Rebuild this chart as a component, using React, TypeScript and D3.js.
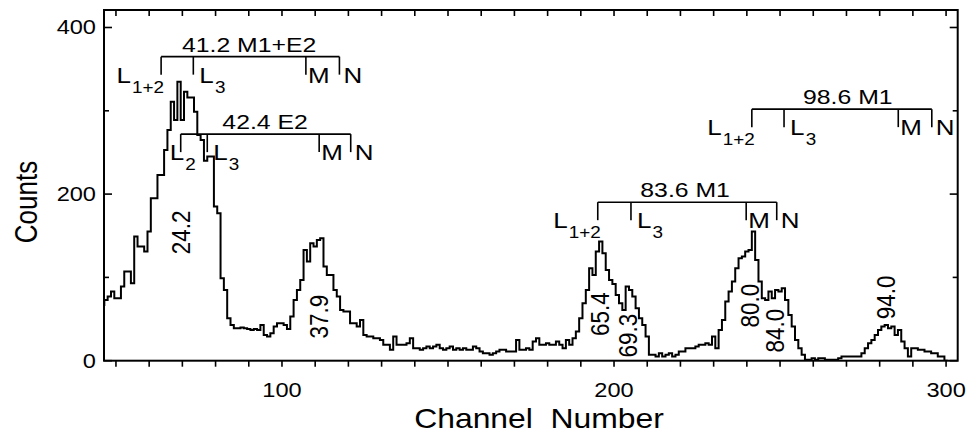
import React from 'react';
import * as d3 from 'd3';

// spectrum: counts per channel, first channel = 46
const channelStart = 46;
const counts = [
  67, 73, 77, 83, 75, 75, 89, 107, 107, 93,
  149, 137, 137, 131, 155, 195, 195, 223, 223, 253,
  277, 311, 289, 335, 289, 323, 316, 316, 299, 271,
  265, 240, 245, 245, 185, 177, 99, 85, 51, 43,
  39, 39, 40, 39, 38, 37, 38, 37, 43, 31,
  29, 33, 41, 45, 45, 43, 38, 53, 73, 85,
  97, 133, 119, 141, 137, 145, 147, 113, 103, 103,
  85, 77, 61, 59, 59, 45, 45, 41, 49, 31,
  29, 29, 27, 27, 25, 19, 19, 13, 29, 19,
  19, 19, 21, 27, 15, 15, 13, 15, 17, 15,
  17, 19, 15, 13, 15, 17, 13, 15, 13, 15,
  13, 13, 17, 15, 11, 9, 9, 7, 9, 11,
  13, 13, 11, 11, 11, 25, 13, 13, 15, 13,
  23, 27, 19, 19, 21, 19, 19, 23, 19, 15,
  25, 19, 27, 35, 51, 69, 85, 111, 103, 131,
  143, 129, 109, 97, 92, 79, 69, 61, 89, 85,
  77, 63, 51, 43, 29, 7, 7, 5, 9, 5,
  7, 9, 5, 7, 11, 11, 15, 15, 15, 17,
  19, 19, 21, 19, 29, 15, 37, 49, 71, 83,
  95, 111, 123, 125, 131, 133, 155, 121, 95, 75,
  73, 83, 75, 85, 83, 87, 73, 55, 41, 25,
  15, 7, 1, 1, 3, 1, 3, 3, 1, 1,
  1, 1, 3, 5, 5, 5, 5, 5, 5, 9,
  15, 21, 25, 31, 37, 41, 43, 39, 41, 31,
  37, 23, 15, 5, 15, 15, 13, 13, 11, 11,
  9, 9, 5, 5, 0,
];

const xMinorTicks = d3.range(50, 301, 10);
const xTickLabels = [100, 200, 300];
const yMinorTicks = [100, 300];
const yTickLabels = [0, 200, 400];

// peak energies written vertically under the peaks (channel, counts)
const peakLabels = ['24.2', '37.9', '65.4', '69.3', '80.0', '84.0', '94.0'];
const peakChannels = [69.4, 110.9, 195.5, 204.1, 240.9, 248.2, 281.8];
const peakCounts = [154, 53, 56, 30, 66, 36, 76];

// conversion-line brackets
const bracketTitles = ['41.2 M1+E2', '42.4 E2', '83.6 M1', '98.6 M1'];
const bracketLevels = [365, 272, 190.3, 302];
const bracketCenters = [90.1, 94.9, 221.4, 270.4];
const bracketEdges = [
  [63.6, 73.3, 107.2, 117.3],
  [69.5, 77.5, 111.2, 120.7],
  [195.1, 205.1, 239.8, 249.0],
  [241.5, 251.2, 285.6, 295.7],
];
const bracketShells = [
  ['L1+2', 'L3', 'M', 'N'],
  ['L2', 'L3', 'M', 'N'],
  ['L1+2', 'L3', 'M', 'N'],
  ['L1+2', 'L3', 'M', 'N'],
];

const W = 968;
const H = 438;
const left = 104;
const right = 957.7;
const top = 10;
const bottom = 360.7;
const FONT = '"Liberation Sans", Arial, Helvetica, sans-serif';
const SX = 1.18;

const x = d3.scaleLinear().domain([46.4, 303.5]).range([left, right]);
const y = d3.scaleLinear().domain([0, 421]).range([bottom, top]);

const Label = ({ px, py, size, anchor = 'start', rotate = false, children }: any) => (
  <text
    transform={`translate(${px},${py}) scale(${SX},1)${rotate ? ' rotate(-90)' : ''}`}
    textAnchor={anchor}
    fontSize={size}
    fontFamily={FONT}
    fill="#000"
    style={{ whiteSpace: 'pre' }}
  >
    {children}
  </text>
);

const Shell = ({ tick, lineY, name }: { tick: number; lineY: number; name: string }) => {
  const base = lineY + 26;
  if (name[0] !== 'L') {
    const dx = name === 'M' ? 2 : 4;
    return <Label px={tick + dx} py={base} size={22}>{name}</Label>;
  }
  const sub = name.slice(1);
  let px = tick + 6;
  let anchor = 'start';
  if (sub === '1+2') { px = tick + 3; anchor = 'end'; }
  if (sub === '2') px = tick - 11;
  return (
    <Label px={px} py={base} size={22} anchor={anchor}>
      L<tspan fontSize={16} dx={1} dy={10}>{sub}</tspan>
    </Label>
  );
};

export default function App() {
  const pts: [number, number][] = counts.map((v, i) => [channelStart + i - 0.5, v]);
  pts.push([channelStart + counts.length - 0.5, counts[counts.length - 1]]);
  const line = d3.line<[number, number]>()
    .x(d => x(d[0]))
    .y(d => y(d[1]))
    .curve(d3.curveStepAfter);

  return (
    <svg width={W} height={H} style={{ position: 'absolute', left: 0, top: 0, background: '#fff' }}>
      <defs>
        <clipPath id="plot">
          <rect x={left} y={top} width={right - left} height={bottom - top} />
        </clipPath>
      </defs>
      <rect x={0} y={0} width={W} height={H} fill="#fff" />

      {/* spectrum */}
      <path d={line(pts) || ''} fill="none" stroke="#000" strokeWidth={2} clipPath="url(#plot)" />

      {/* frame */}
      <rect x={left} y={top} width={right - left} height={bottom - top} fill="none" stroke="#000" strokeWidth={2} />

      {/* x ticks: outward at bottom, inward at top */}
      {xMinorTicks.map(t => (
        <g key={'xt' + t} stroke="#000" strokeWidth={1.6}>
          <line x1={x(t)} x2={x(t)} y1={bottom} y2={bottom + 6} />
          <line x1={x(t)} x2={x(t)} y1={top} y2={top + 6} />
        </g>
      ))}
      {xTickLabels.map(t => (
        <Label key={'xl' + t} px={x(t)} py={397} size={20} anchor="middle">{t}</Label>
      ))}

      {/* y ticks: inward on both sides */}
      {yTickLabels.concat(yMinorTicks).map(t => {
        const len = yTickLabels.includes(t) ? 8 : 5;
        return (
          <g key={'yt' + t} stroke="#000" strokeWidth={1.6}>
            <line x1={left} x2={left + len} y1={y(t)} y2={y(t)} />
            <line x1={right - len} x2={right} y1={y(t)} y2={y(t)} />
          </g>
        );
      })}
      {yTickLabels.map(t => (
        <Label key={'yl' + t} px={96} py={y(t) + 7} size={20} anchor="end">{t}</Label>
      ))}

      {/* axis titles */}
      <Label px={539} py={428} size={27} anchor="middle">{'Channel  Number'}</Label>
      <Label px={37} py={202} size={26} anchor="middle" rotate>Counts</Label>

      {/* peak energies */}
      {peakLabels.map((s, i) => (
        <g key={'pk' + i} transform={`translate(${x(peakChannels[i])},${y(peakCounts[i])}) scale(${SX},1) rotate(-90)`}>
          <text textAnchor="middle" dy="0.36em" fontSize={22.5} fontFamily={FONT}>{s}</text>
        </g>
      ))}

      {/* conversion brackets */}
      {bracketTitles.map((title, b) => {
        const ly = y(bracketLevels[b]);
        const edges = bracketEdges[b];
        return (
          <g key={'br' + b}>
            <line x1={x(edges[0])} x2={x(edges[edges.length - 1])} y1={ly} y2={ly} stroke="#000" strokeWidth={1.6} />
            {edges.map((c, k) => (
              <line key={k} x1={x(c)} x2={x(c)} y1={ly} y2={ly + 18} stroke="#000" strokeWidth={1.6} />
            ))}
            <Label px={x(bracketCenters[b])} py={ly - 5} size={21} anchor="middle">{title}</Label>
            {edges.map((c, k) => (
              <Shell key={'s' + k} tick={x(c)} lineY={ly} name={bracketShells[b][k]} />
            ))}
          </g>
        );
      })}
    </svg>
  );
}
